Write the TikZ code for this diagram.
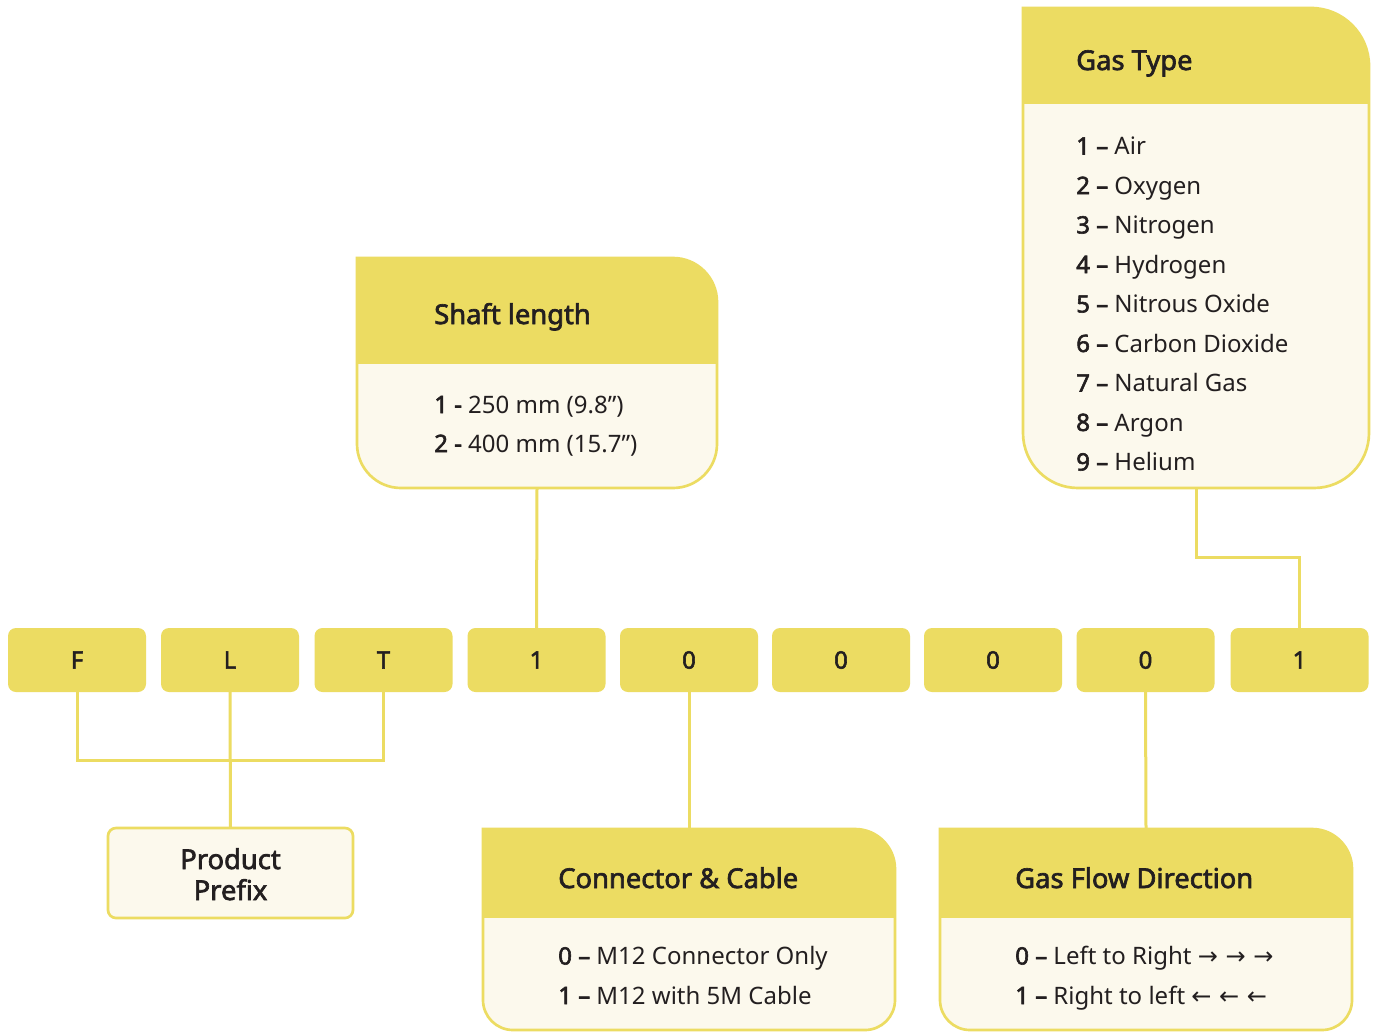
\documentclass[tikz,border=0pt]{standalone}
\usepackage{fontspec}
\setmainfont{Noto Sans}[AutoFakeBold=2.4]
\newfontfamily\arrowfont{DejaVu Sans}

\definecolor{brand}{RGB}{236,220,98}
\definecolor{cream}{RGB}{252,249,237}
\definecolor{ink}{RGB}{35,31,32}

\tikzset{
  % outline of a card: square top-left corner, rounded top-right and bottom corners
  % args: x1 y1 x2 y2 top-right-radius bottom-radius (path continues from (x1,y1))
  cardpath/.style n args={6}{insert path={
    -- ({#3-#5},#2) .. controls ({#3-0.4477*#5},#2) and (#3,{#2+0.4477*#5}) .. (#3,{#2+#5})
    -- (#3,{#4-#6}) .. controls (#3,{#4-0.4477*#6}) and ({#3-0.4477*#6},#4) .. ({#3-#6},#4)
    -- ({#1+#6},#4) .. controls ({#1+0.4477*#6},#4) and (#1,{#4-0.4477*#6}) .. (#1,{#4-#6})
    -- cycle}},
  area/.style 2 args={minimum width=#1*0.75pt, minimum height=#2*0.75pt,
    inner sep=0pt, outer sep=0pt},
  codebox/.style={fill=brand, rounded corners=6pt, minimum width=103.5pt,
    minimum height=48pt, inner sep=0pt, outer sep=0pt,
    font=\fontsize{18}{20}\selectfont\bfseries, text=ink},
  prefixbox/.style={fill=cream, draw=brand, line width=2pt, rounded corners=6pt,
    minimum width=183.75pt, minimum height=67.5pt, inner sep=0pt, outer sep=0pt},
  title/.style={anchor=base west, inner sep=0pt,
    font=\fontsize{20.5}{22}\selectfont\bfseries, text=ink},
  item/.style={anchor=base west, inner sep=0pt,
    font=\fontsize{18}{20}\selectfont, text=ink},
  link/.style={draw=brand, line width=2.25pt},
}

% card: x1 y1 x2 y2 r-top-right r-bottom header-bottom
\newcommand\drawcard[7]{%
  \fill[cream] (#1,#2) [cardpath={#1}{#2}{#3}{#4}{#5}{#6}];
  \begin{scope}
    \clip (#1,#2) [cardpath={#1}{#2}{#3}{#4}{#5}{#6}];
    \fill[brand] (#1,#2) rectangle (#3,#7);
  \end{scope}
  \draw[brand, line width=2pt] (#1,#2) [cardpath={#1}{#2}{#3}{#4}{#5}{#6}];
}

\begin{document}
\begin{tikzpicture}[x=0.75pt, y=-0.75pt]
  \useasboundingbox (0,0) rectangle (1378,1032);
  \fill[white] (0,0) rectangle (1378,1032);

  % code characters
  \node[codebox] (c1) at (77,660)     {F};
  \node[codebox] (c2) at (230,660)    {L};
  \node[codebox] (c3) at (383.5,660)  {T};
  \node[codebox] (c4) at (536.5,660)  {1};
  \node[codebox] (c5) at (689,660)    {0};
  \node[codebox] (c6) at (841,660)    {0};
  \node[codebox] (c7) at (993,660)    {0};
  \node[codebox] (c8) at (1145.5,660) {0};
  \node[codebox] (c9) at (1299.5,660) {1};

  % cards
  \drawcard{357}{258}{717}{488}{44}{44}{364}
  \node[area={360}{230}] (shaft) at (537,373) {};
  \drawcard{1023}{8}{1369}{488}{58}{55}{104}
  \node[area={346}{480}] (gas) at (1196,248) {};
  \drawcard{483}{829}{895}{1030}{40}{30}{918}
  \node[area={412}{201}] (cable) at (689,929.5) {};
  \drawcard{940}{829}{1352}{1030}{40}{30}{918}
  \node[area={412}{201}] (flow) at (1146,929.5) {};

  \node[prefixbox] (prefix) at (230.5,873) {};
  \node[anchor=base, inner sep=0pt, font=\fontsize{20.5}{23.25}\selectfont\bfseries,
    text=ink, align=center] (prefixT) at (230.5,900) {Product\\Prefix};

  % connectors
  \draw[link] (shaft.south) -- (c4.north);
  \draw[link] (gas.south) -- ++(0,69) -| (c9.north);
  \draw[link] (c1.south) -- ++(0,68) -| (c3.south);
  \draw[link] (c2.south) -- (prefix.north);
  \draw[link] (c5.south) -- (cable.north);
  \draw[link] (c8.south) -- (flow.north);

  % shaft length
  \node[title] (shaftT) at (434,324) {Shaft length};
  \node[item] (shaft1) at (434,413) {\textbf{1 -} 250 mm (9.8”)};
  \node[item] (shaft2) at (434,452) {\textbf{2 -} 400 mm (15.7”)};

  % gas type
  \node[title] (gasT) at (1076,70) {Gas Type};
  \foreach \t [count=\i] in {Air,Oxygen,Nitrogen,Hydrogen,Nitrous Oxide,
      Carbon Dioxide,Natural Gas,Argon,Helium}
    \node[item] (gas\i) at (1076,{154.5+39.5*(\i-1)}) {\textbf{\i\ –} \t};

  % connector and cable
  \node[title] (cableT) at (558,888) {Connector \& Cable};
  \node[item] (cable0) at (558,964.5) {\textbf{0 –} M12 Connector Only};
  \node[item] (cable1) at (558,1004) {\textbf{1 –} M12 with 5M Cable};

  % gas flow direction
  \node[title] (flowT) at (1015,888) {Gas Flow Direction};
  \node[item] (flow0) at (1015,964.5) {\textbf{0 –} Left to Right {\arrowfont → → →}};
  \node[item] (flow1) at (1015,1004) {\textbf{1 –} Right to left {\arrowfont ← ← ←}};
\end{tikzpicture}
\end{document}
